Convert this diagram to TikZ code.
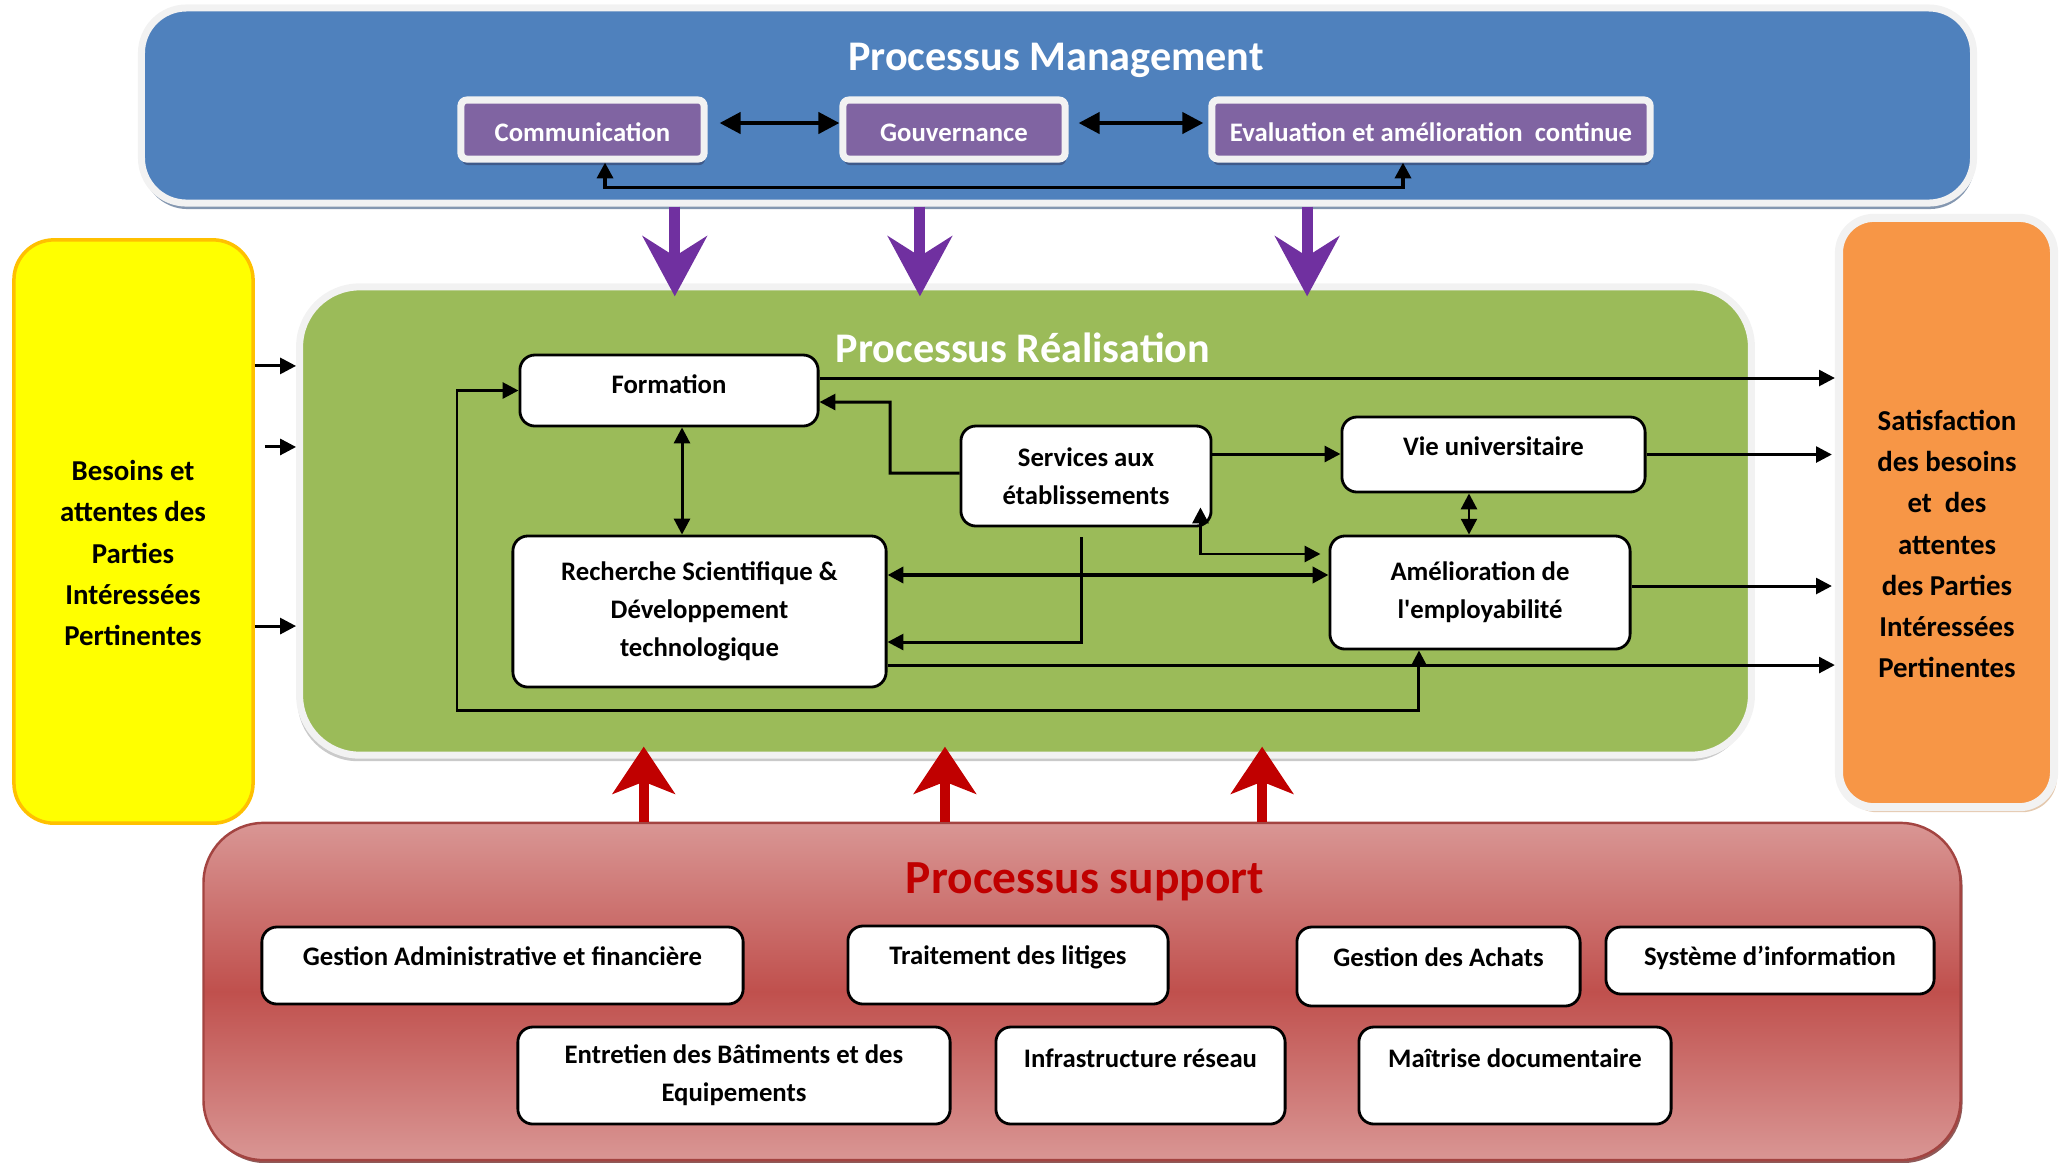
\documentclass[tikz,border=0pt]{standalone}
\usepackage{fontspec}
\setmainfont{Carlito}
\usetikzlibrary{arrows.meta,shadows}

\definecolor{mgmtblue}{HTML}{4F81BD}
\definecolor{mgmtedge}{HTML}{8497B0}
\definecolor{mgmtpurple}{HTML}{8064A2}
\definecolor{mgmtshade}{HTML}{3F5A8A}
\definecolor{downpurple}{HTML}{7030A0}
\definecolor{realgreen}{HTML}{9BBB59}
\definecolor{suppred}{HTML}{C0504D}
\definecolor{supplight}{HTML}{D99694}
\definecolor{uparrowred}{HTML}{C00000}
\definecolor{needyellow}{HTML}{FFFF00}
\definecolor{needgold}{HTML}{FFC000}
\definecolor{satorange}{HTML}{F79646}
\definecolor{framegray}{HTML}{F2F2F2}

\newcommand{\procfont}{\fontsize{7.6}{10.8}\selectfont\bfseries}
\newcommand{\sidefont}{\fontsize{8.2}{11.7}\selectfont\bfseries}
\newcommand{\headfont}{\fontsize{12}{14}\selectfont\bfseries}

\tikzset{
  bigframe/.style={draw=framegray, line width=2pt},
  mgmtitem/.style={fill=mgmtpurple, draw=framegray, line width=2pt, rounded corners=0.06cm,
    text=white, font=\procfont, inner sep=0pt,
    drop shadow={shadow xshift=0.01cm, shadow yshift=-0.06cm, fill=mgmtshade, opacity=1}},
  procbox/.style={fill=white, draw=black, line width=0.8pt, rounded corners=0.15cm,
    align=center, font=\procfont, inner sep=0pt},
  sidetext/.style={align=center, font=\sidefont, inner sep=0pt},
  conn/.style={line width=0.85pt},
  mgmtconn/.style={line width=1.2pt, >={Triangle[length=6pt,width=6pt]}},
  downarrow/.style={draw=downpurple, line width=0.11cm, -{Stealth[length=0.6cm,width=0.64cm,inset=0.2cm]}},
  uparrow/.style={draw=uparrowred, line width=0.1cm, -{Stealth[length=0.47cm,width=0.62cm,inset=0.12cm]}}
}

\begin{document}
\begin{tikzpicture}[x=0.01cm,y=-0.01cm,>={Triangle[length=4.5pt,width=4.5pt]}]
    \useasboundingbox (0,0) rectangle (2066,1162);

    %management
    \node[bigframe, fill=mgmtblue, rounded corners=0.45cm, minimum width=18.31cm, minimum height=1.95cm,
      drop shadow={shadow xshift=0.01cm, shadow yshift=-0.06cm, fill=mgmtedge, opacity=1}] (mgmt) at (1057.5,105.5) {};
    \node[font=\headfont, text=white] (mgmttitle) at (1056,60) {Processus Management};
    \node[mgmtitem, minimum width=2.43cm, minimum height=0.59cm, text height=0.24cm] (comm) at (582.5,129.5) {Communication};
    \node[mgmtitem, minimum width=2.22cm, minimum height=0.59cm, text height=0.24cm] (gouv) at (954,129.5) {Gouvernance};
    \node[mgmtitem, minimum width=4.38cm, minimum height=0.59cm, text height=0.24cm] (eval) at (1431,129.5) {Evaluation et amélioration\ \ continue};

    \draw[mgmtconn, <->] ([xshift=0.12cm,yshift=0.065cm]comm.east) -- ([yshift=0.065cm]gouv.west);
    \draw[mgmtconn, <->] ([xshift=0.1cm,yshift=0.065cm]gouv.east) -- ([xshift=-0.05cm,yshift=0.065cm]eval.west);
    \draw[conn, line width=1.1pt, <->] ([xshift=0.225cm]comm.south) -- ++(0,25) -| ([xshift=-0.28cm]eval.south);

    %realisation
    \node[bigframe, fill=realgreen, rounded corners=0.6cm, minimum width=14.51cm, minimum height=4.68cm,
      drop shadow={shadow xshift=-0.02cm, shadow yshift=-0.06cm, fill=black!35, opacity=0.6}] (real) at (1025.5,521) {};
    \node[font=\headfont, text=white] (realtitle) at (1023,348) {Processus Réalisation};

    %besoins / satisfaction
    \node[draw=needgold, line width=1pt, fill=needyellow, rounded corners=0.4cm,
      minimum width=2.39cm, minimum height=5.83cm] (need) at (133.5,531.5) {};
    \node[sidetext] (needtxt) at (133,553) {Besoins et\\attentes des\\Parties\\Intéressées\\Pertinentes};
    \node[bigframe, line width=2.3pt, fill=satorange, rounded corners=0.35cm, minimum width=2.15cm, minimum height=5.89cm,
      drop shadow={shadow xshift=0.03cm, shadow yshift=-0.05cm, fill=brown!60, opacity=0.7}] (sat) at (1946.5,512.5) {};
    \node[sidetext] (sattxt) at (1947,544) {Satisfaction\\des besoins\\et\ \ des\\attentes\\des Parties\\Intéressées\\Pertinentes};

    %support
    \node[draw=suppred!85!black, line width=0.7pt, top color=supplight, bottom color=supplight, middle color=suppred,
      rounded corners=0.6cm, minimum width=17.56cm, minimum height=3.37cm,
      drop shadow={shadow xshift=0.02cm, shadow yshift=-0.03cm, fill=suppred!60!black, opacity=0.8}] (supp) at (1082,991.5) {};
    \node[font=\fontsize{13.5}{16}\selectfont\bfseries, text=uparrowred] (supptitle) at (1085,882) {Processus support};

    %process boxes
    \node[procbox, minimum width=2.98cm, minimum height=0.71cm, text depth=0.13cm] (form) at (669,390.5) {Formation};
    \node[procbox, minimum width=2.50cm, minimum height=1.00cm] (serv) at (1086,476) {Services aux\\établissements};
    \node[procbox, minimum width=3.03cm, minimum height=0.75cm, text depth=0.17cm] (vie) at (1493.5,454.5) {Vie universitaire};
    \node[procbox, minimum width=3.73cm, minimum height=1.51cm] (rech) at (699.5,611.5) {Recherche Scientifique \&\\Développement\\technologique};
    \node[procbox, minimum width=3.00cm, minimum height=1.13cm] (amel) at (1480,592.5) {Amélioration de\\l\textquotesingle employabilité};

    \node[procbox, minimum width=4.81cm, minimum height=0.77cm, text depth=0.19cm] (gadm) at (502.5,965.5) {Gestion Administrative et financière};
    \node[procbox, minimum width=3.20cm, minimum height=0.78cm, text depth=0.19cm] (trait) at (1008,965) {Traitement des litiges};
    \node[procbox, minimum width=2.83cm, minimum height=0.79cm, text depth=0.19cm] (achat) at (1438.5,966.5) {Gestion des Achats};
    \node[procbox, minimum width=3.28cm, minimum height=0.67cm, text depth=0.09cm] (sysinf) at (1770,960.5) {Système d’information};
    \node[procbox, minimum width=4.32cm, minimum height=0.97cm] (entr) at (734,1075.5) {Entretien des Bâtiments et des\\Equipements};
    \node[procbox, minimum width=2.89cm, minimum height=0.97cm, text depth=0.34cm] (infra) at (1140.5,1075.5) {Infrastructure réseau};
    \node[procbox, minimum width=3.12cm, minimum height=0.97cm, text depth=0.34cm] (maitr) at (1515,1075.5) {Maîtrise documentaire};

    %big arrows
    \foreach \s in {-3.825cm,-1.375cm,2.495cm}
        \draw[downarrow] ([xshift=\s]mgmt.south) -- ([xshift=\s,yshift=-0.13cm]mgmt.south |- real.north);
    \foreach \s in {-4.38cm,-1.37cm,1.80cm}
        \draw[uparrow] ([xshift=\s]supp.north) -- ([xshift=\s,yshift=0.12cm]supp.north |- real.south);

    %inputs
    \draw[conn, ->] ([yshift=1.655cm]need.east) -- ([yshift=1.655cm]need.east -| real.west);
    \draw[conn, ->] ([xshift=0.1cm,yshift=0.845cm]need.east) -- ([yshift=0.845cm]need.east -| real.west);
    \draw[conn, ->] ([yshift=-0.945cm]need.east) -- ([yshift=-0.945cm]need.east -| real.west);

    %outputs
    \draw[conn, ->] ([yshift=0.125cm]form.east) -- ([yshift=0.125cm]form.east -| sat.west);
    \draw[conn, ->] (vie.east) -- ([xshift=-0.03cm]vie.east -| sat.west);
    \draw[conn, ->] ([yshift=0.065cm]amel.east) -- ([xshift=-0.03cm,yshift=0.065cm]amel.east -| sat.west);
    \draw[conn, ->] ([yshift=-0.535cm]rech.east) -- ([yshift=-0.535cm]rech.east -| sat.west);

    %links inside
    \draw[conn, <->] (form.west) -| (457,710) -| ([xshift=-0.61cm]amel.south);
    \draw[conn, <->] ([xshift=0.13cm]form.south) -- ([xshift=0.13cm]form.south |- rech.north);
    \draw[conn, ->] ([yshift=0.03cm]serv.west) -| (890,402) -- ([yshift=-0.115cm]form.east);
    \draw[conn, ->] ([yshift=0.22cm]serv.east) -- ([yshift=0.22cm]serv.east -| vie.west);
    \draw[conn, <->] ([xshift=-0.245cm]vie.south) -- ([xshift=-0.245cm]vie.south |- amel.north);
    \draw[conn, <->] ([xshift=-0.12cm,yshift=0.2cm]serv.south east) |- ([xshift=-0.08cm,yshift=0.385cm]amel.west);
    \draw[conn, line width=1.4pt, <->] ([yshift=0.365cm]rech.east) -- ([yshift=0.365cm]rech.east -| amel.west);
    \draw[conn, ->] ([xshift=-0.05cm,yshift=-0.1cm]serv.south) |- ([yshift=-0.305cm]rech.east);

\end{tikzpicture}
\end{document}
